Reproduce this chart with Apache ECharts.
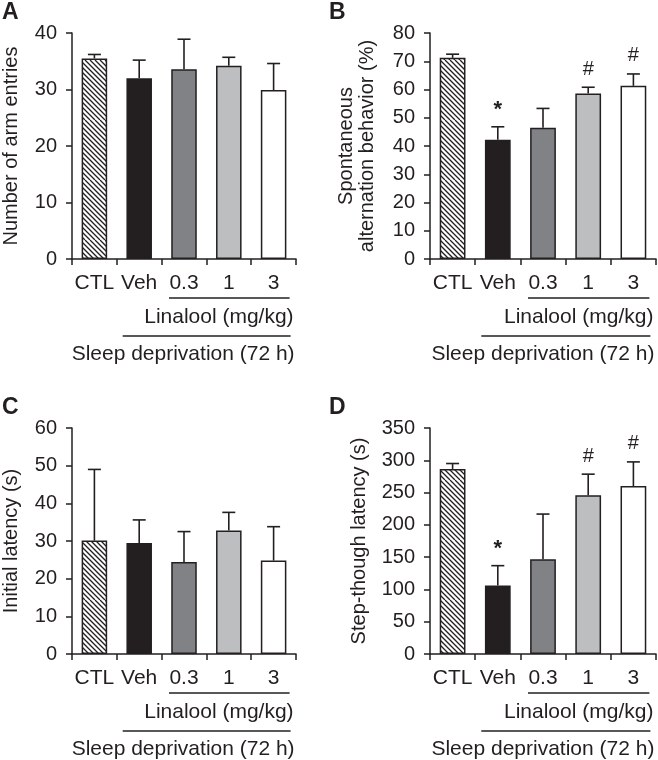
<!DOCTYPE html>
<html>
<head>
<meta charset="utf-8">
<script src="https://cdn.jsdelivr.net/npm/echarts@6/dist/echarts.min.js"></script>
<style>
html,body{margin:0;padding:0;background:#fff;}
#chart{width:658px;height:760px;}
</style>
</head>
<body>
<div id="chart"></div>
<script>
// ---- data ----
const categories = ['CTL', 'Veh', '0.3', '1', '3'];
const armEntries = [35.5, 32.0, 33.6, 34.2, 29.9];
const armEntriesSem = [0.7, 3.2, 5.3, 1.5, 4.7];
const altBehavior = [71.2, 42.2, 46.5, 58.6, 61.3];
const altBehaviorSem = [1.3, 4.6, 6.8, 2.2, 4.2];
const initLatency = [30.1, 29.5, 24.4, 32.8, 24.8];
const initLatencySem = [18.9, 6.1, 8.1, 4.8, 9.0];
const stepLatency = [286.6, 106, 146.7, 246, 260];
const stepLatencySem = [8.4, 30.8, 70, 32.5, 37.5];
const marksA = ['', '', '', '', ''];
const marksB = ['', '*', '', '#', '#'];
const marksC = ['', '', '', '', ''];
const marksD = ['', '*', '', '#', '#'];
const groupLabel1 = 'Linalool (mg/kg)';
const groupLabel2 = 'Sleep deprivation (72 h)';

const INK = '#231f20';
const FONT = '"Liberation Sans", Arial, Helvetica, sans-serif';

// hatch pattern
const hatch = document.createElement('canvas');
hatch.width = 60; hatch.height = 60;
(function(){
  const c = hatch.getContext('2d');
  c.fillStyle = '#fff'; c.fillRect(0,0,60,60);
  c.strokeStyle = INK; c.lineWidth = 1.3;
  for (let k = -65; k <= 65; k += 5) {
    c.beginPath(); c.moveTo(k, 0); c.lineTo(k + 60, 60); c.stroke();
  }
})();
const barColors = [{image: hatch, repeat: 'repeat'}, '#231f20', '#808285', '#bcbec0', '#ffffff'];

const panels = [
  {letter:'A', values: armEntries, sem: armEntriesSem, marks: marksA, max: 40, interval: 10,
   name: 'Number of arm entries', left: 70, top: 33, bottom: 501, nameGap: 50},
  {letter:'B', values: altBehavior, sem: altBehaviorSem, marks: marksB, max: 80, interval: 10,
   name: 'Spontaneous\nalternation behavior (%)', left: 430, top: 33, bottom: 501, nameGap: 52},
  {letter:'C', values: initLatency, sem: initLatencySem, marks: marksC, max: 60, interval: 10,
   name: 'Initial latency (s)', left: 70, top: 428, bottom: 106, nameGap: 50},
  {letter:'D', values: stepLatency, sem: stepLatencySem, marks: marksD, max: 350, interval: 50,
   name: 'Step-though latency (s)', left: 430, top: 428, bottom: 106, nameGap: 60}
];

const grid = [], xAxis = [], yAxis = [], series = [], graphic = [];
panels.forEach((p, i) => {
  grid.push({left: p.left, top: p.top, width: 226, bottom: p.bottom, containLabel: false});
  xAxis.push({
    type: 'category', gridIndex: i, data: categories, boundaryGap: true,
    axisLine: {lineStyle: {color: INK, width: 1.5}},
    axisTick: {show: true, length: 6, lineStyle: {color: INK, width: 1.5}, alignWithLabel: false},
    axisLabel: {color: INK, fontSize: 21, fontFamily: FONT, margin: 14, interval: 0}
  });
  yAxis.push({
    type: 'value', gridIndex: i, min: 0, max: p.max, interval: p.interval,
    name: p.name, nameLocation: 'middle', nameGap: p.nameGap,
    nameTextStyle: {color: INK, fontSize: 20, fontFamily: FONT, lineHeight: 21},
    axisLine: {show: true, lineStyle: {color: INK, width: 1.5}},
    axisTick: {show: true, length: 6, lineStyle: {color: INK, width: 1.5}},
    axisLabel: {color: INK, fontSize: 20, fontFamily: FONT, margin: 15},
    splitLine: {show: false}
  });
  series.push({
    type: 'bar', xAxisIndex: i, yAxisIndex: i, barWidth: '57%', silent: true,
    data: p.values.map((v, j) => ({value: v, itemStyle: {color: barColors[j]}})),
    itemStyle: {borderColor: INK, borderWidth: 1.5},
    z: 2
  });
  const marks = p.marks;
  series.push({
    type: 'custom', xAxisIndex: i, yAxisIndex: i, silent: true, z: 3,
    data: p.values.map((v, j) => [j, v, v + p.sem[j]]),
    encode: {x: 0, y: [1, 2]},
    renderItem: function(params, api) {
      const x = api.value(0);
      const p0 = api.coord([x, api.value(1)]);
      const p1 = api.coord([x, api.value(2)]);
      const hw = 6.5;
      const children = [
        {type: 'line', shape: {x1: p0[0], y1: p0[1], x2: p1[0], y2: p1[1]}, style: {stroke: INK, lineWidth: 1.6}},
        {type: 'line', shape: {x1: p1[0] - hw, y1: p1[1], x2: p1[0] + hw, y2: p1[1]}, style: {stroke: INK, lineWidth: 1.6}}
      ];
      const m = marks[params.dataIndex];
      if (m) {
        children.push({type: 'text', style: {text: m, x: p1[0], y: p1[1] - (m === '*' ? 6 : 8),
          align: 'center', verticalAlign: 'bottom', fill: INK,
          font: (m === '*' ? 'bold 22px ' : '20px ') + FONT}});
      }
      return {type: 'group', children: children};
    }
  });
  series.push({
    type: 'custom', xAxisIndex: i, yAxisIndex: i, silent: true, z: 3,
    data: [[2, 0]],
    encode: {x: 0, y: 1},
    renderItem: function(params, api) {
      const c1 = api.coord([1, 0]);
      const c2 = api.coord([2, 0]);
      const c4 = api.coord([4, 0]);
      const ay = c1[1];
      const ls = {stroke: INK, lineWidth: 1.3};
      return {type: 'group', children: [
        {type: 'line', shape: {x1: c2[0] - 15, y1: ay + 39, x2: c4[0] + 16, y2: ay + 39}, style: ls},
        {type: 'line', shape: {x1: c1[0] - 16.5, y1: ay + 77, x2: c4[0] + 17, y2: ay + 77}, style: ls},
        {type: 'text', style: {text: groupLabel1, x: c4[0] + 20, y: ay + 58, align: 'right', verticalAlign: 'middle',
          fill: INK, font: '21px ' + FONT}},
        {type: 'text', style: {text: groupLabel2, x: c4[0] + 21, y: ay + 95, align: 'right', verticalAlign: 'middle',
          fill: INK, font: '21px ' + FONT}}
      ]};
    }
  });
  graphic.push({type: 'text', left: (i % 2 === 0) ? 2 : 329, top: (i < 2) ? 1 : 396,
    style: {text: p.letter, fill: INK, font: 'bold 23px ' + FONT}});
});

const chart = echarts.init(document.getElementById('chart'));
chart.setOption({
  animation: false,
  backgroundColor: '#ffffff',
  grid: grid, xAxis: xAxis, yAxis: yAxis, series: series, graphic: graphic
});
</script>
</body>
</html>
